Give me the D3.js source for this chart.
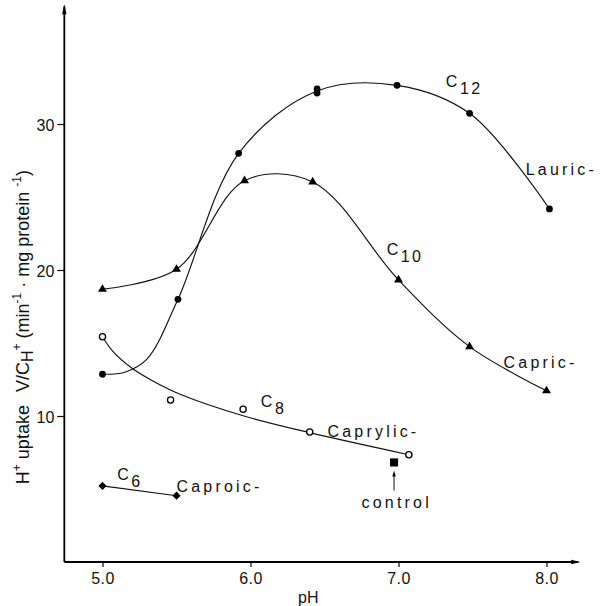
<!DOCTYPE html>
<html><head><meta charset="utf-8">
<script src="https://cdn.jsdelivr.net/npm/d3@7"></script>
<style>body{margin:0;background:#fff}text{font-family:"Liberation Sans",Arial,sans-serif;fill:#111}</style>
</head><body><svg id="c" width="600" height="606"></svg>
<script>
// ---- data ----
const xTicks = [5, 6, 7, 8];
const xTickLabels = ["5.0", "6.0", "7.0", "8.0"];
const yTicks = [10, 20, 30];
const yTickLabels = ["10", "20", "30"];

const lauricPH = [5.00, 5.51, 5.92, 6.45, 6.45, 6.99, 7.48, 8.02];
const lauricV  = [12.86, 17.99, 27.99, 32.40, 32.12, 32.65, 30.73, 24.18];
// hand-drawn curve through the lauric data
const lauricFitPH = [5.00, 5.15, 5.30, 5.51, 5.92, 6.45, 6.99, 7.48, 8.02];
const lauricFitV  = [12.86, 13.00, 13.90, 17.99, 27.99, 32.26, 32.65, 30.73, 24.18];

const capricPH = [5.00, 5.50, 5.96, 6.42, 7.00, 7.48, 8.00];
const capricV  = [18.68, 20.05, 26.12, 26.03, 19.32, 14.75, 11.73];

const caprylicPH = [5.00, 5.46, 5.95, 6.40, 7.07];
const caprylicV  = [15.43, 11.10, 10.46, 8.90, 7.35];
// smooth fitted curve drawn through the caprylic data
const caprylicFitPH = [5.00, 5.07, 5.20, 5.34, 5.52, 5.95, 6.40, 7.07];
const caprylicFitV  = [15.43, 14.43, 13.27, 12.40, 11.51, 10.02, 8.86, 7.35];

const caproicPH = [5.00, 5.50];
const caproicV  = [5.21, 4.54];

const controlPH = [6.97];
const controlV  = [6.82];

// series labels: text, subscript, anchor position in data units
const labelText = ["C", "Lauric-", "C", "Capric-", "C", "Caprylic-", "C", "Caproic-", "control"];
const labelSub  = ["12", "", "10", "", "8", "", "6", "", ""];
const labelPH   = [7.32, 7.86, 6.92, 7.71, 6.07, 6.52, 5.10, 5.50, 6.75];
const labelV    = [32.53, 26.51, 21.03, 13.29, 10.62, 8.56, 5.62, 4.79, 3.70];

// ---- drawing ----
const svg = d3.select("#c");
const x = d3.scaleLinear().domain([5, 8]).range([102.5, 546.5]);
const y = d3.scaleLinear().domain([0, 30]).range([562, 124]);
const xMin = 4.742, xMax = 8.228, yMax = 38.2;

const zip = (a, b) => a.map((v, i) => ({ph: v, v: b[i]}));
const lauric = zip(lauricPH, lauricV), lauricFit = zip(lauricFitPH, lauricFitV),
      capric = zip(capricPH, capricV),
      caprylic = zip(caprylicPH, caprylicV), caprylicFit = zip(caprylicFitPH, caprylicFitV),
      caproic = zip(caproicPH, caproicV), control = zip(controlPH, controlV);

// axes
const axisColor = "#000";
const g = svg.append("g");
g.append("line").attr("x1", x(xMin)).attr("x2", x(xMin)).attr("y1", y(0)).attr("y2", y(yMax) + 2)
  .attr("stroke", axisColor).attr("stroke-width", 1.8);
g.append("path").attr("d", `M${x(xMin)},${y(yMax)} l-2.2,10 l4.4,0 z`).attr("fill", axisColor);
g.append("line").attr("x1", x(xMin)).attr("x2", x(xMax) - 2).attr("y1", y(0)).attr("y2", y(0))
  .attr("stroke", axisColor).attr("stroke-width", 1.8);
g.append("path").attr("d", `M${x(xMax)},${y(0)} l-9,-2.2 l0,4.4 z`).attr("fill", axisColor);

const ax = svg.append("g").attr("transform", `translate(0,${y(0)})`)
  .call(d3.axisBottom(x).tickValues(xTicks).tickFormat((d, i) => xTickLabels[i]).tickSize(5).tickPadding(6));
ax.select(".domain").remove();
ax.selectAll("line").attr("stroke-width", 1.2);
ax.selectAll("text").style("font-size", "16px").style("letter-spacing", "0.5px").attr("fill", "#111");

const ay = svg.append("g").attr("transform", `translate(${x(xMin)},0)`)
  .call(d3.axisLeft(y).tickValues(yTicks).tickFormat((d, i) => yTickLabels[i]).tickSize(7).tickPadding(3));
ay.select(".domain").remove();
ay.selectAll("line").attr("stroke-width", 1.2);
ay.selectAll("text").style("font-size", "16px").attr("dy", "0.42em").attr("fill", "#111");

// curves
const lineStyle = p => p.attr("fill", "none").attr("stroke", "#111").attr("stroke-width", 1.15);
const smooth = d3.line().x(d => x(d.ph)).y(d => y(d.v)).curve(d3.curveCatmullRom.alpha(0.5));
svg.append("path").datum(lauricFit).call(lineStyle).attr("d", smooth);
svg.append("path").datum(capric).call(lineStyle).attr("d", smooth);
svg.append("path").datum(caprylicFit).call(lineStyle).attr("d", smooth);
svg.append("path").datum(caproic).call(lineStyle)
  .attr("d", d3.line().x(d => x(d.ph)).y(d => y(d.v)).curve(d3.curveLinear));

// markers
svg.append("g").selectAll("circle").data(lauric).join("circle")
  .attr("cx", d => x(d.ph)).attr("cy", d => y(d.v)).attr("r", 3.4).attr("fill", "#000");
svg.append("g").selectAll("path").data(capric).join("path")
  .attr("transform", d => `translate(${x(d.ph)},${y(d.v)})`)
  .attr("d", d3.symbol(d3.symbolTriangle, 34)).attr("fill", "#000");
svg.append("g").selectAll("circle").data(caprylic).join("circle")
  .attr("cx", d => x(d.ph)).attr("cy", d => y(d.v)).attr("r", 3.1)
  .attr("fill", "#fff").attr("stroke", "#000").attr("stroke-width", 1.3);
svg.append("g").selectAll("path").data(caproic).join("path")
  .attr("transform", d => `translate(${x(d.ph)},${y(d.v)}) rotate(45)`)
  .attr("d", d3.symbol(d3.symbolSquare, 34)).attr("fill", "#000");
svg.append("g").selectAll("path").data(control).join("path")
  .attr("transform", d => `translate(${x(d.ph)},${y(d.v)})`)
  .attr("d", d3.symbol(d3.symbolSquare, 66)).attr("fill", "#000");
control.forEach(d => {
  const cx = x(d.ph), top = y(d.v) + 8, bot = y(d.v) + 28;
  svg.append("line").attr("x1", cx).attr("x2", cx).attr("y1", top + 3).attr("y2", bot)
    .attr("stroke", "#111").attr("stroke-width", 1);
  svg.append("path").attr("d", `M${cx},${top} l-1.8,6 l3.6,0 z`).attr("fill", "#111");
});

// series labels
labelText.forEach((t, i) => {
  const tx = svg.append("text").attr("x", x(labelPH[i])).attr("y", y(labelV[i]))
    .style("font-size", "16px").style("letter-spacing", labelSub[i] ? "1px" : "3.2px");
  tx.append("tspan").text(t);
  if (labelSub[i]) tx.append("tspan").attr("dy", 7).attr("dx", 1.5).style("letter-spacing", "2.5px").text(labelSub[i]);
});

// x title
svg.append("text").attr("x", x(6.39)).attr("y", 603).attr("text-anchor", "middle")
  .style("font-size", "16px").text("pH");

// y title
const yt = svg.append("text").attr("transform", `translate(29,${(y(0) + y(yMax)) / 2 + 44}) rotate(-90)`)
  .attr("text-anchor", "middle").style("font-size", "18px");
const parts = [
  {t: "H", s: 0}, {t: "+", s: -8, f: 12}, {t: " uptake", s: 0},
  {t: "V/C", s: 0, dx: 13}, {t: "H", s: 4, f: 16}, {t: "+", s: -8, f: 12},
  {t: " (min", s: 0}, {t: "-1", s: -8, f: 12}, {t: " · mg protein ", s: 0},
  {t: "-1", s: -8, f: 12}, {t: ")", s: 0}
];
let cur = 0;
parts.forEach(p => {
  const ts = yt.append("tspan").attr("dy", p.s - cur).text(p.t);
  if (p.f) ts.style("font-size", p.f + "px");
  if (p.dx) ts.attr("dx", p.dx);
  cur = p.s;
});
</script></body></html>
